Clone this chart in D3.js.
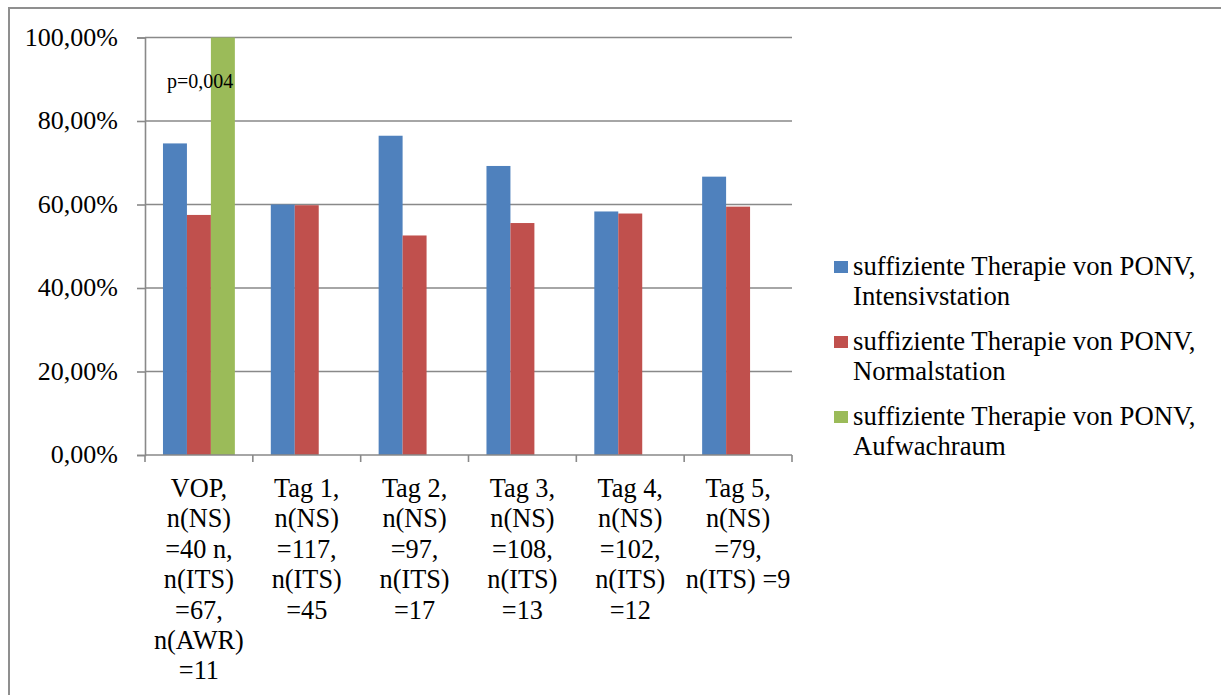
<!DOCTYPE html>
<html>
<head>
<meta charset="utf-8">
<script src="https://cdn.jsdelivr.net/npm/d3@7"></script>
<style>
  html, body { margin: 0; padding: 0; background: #fff; }
  svg { display: block; }
  text { font-family: "Liberation Serif", "Times New Roman", serif; fill: #000; }
</style>
</head>
<body>
<svg id="chart" width="1221" height="695"></svg>
<script>
// Categories (x axis), each label split into its wrapped lines
const categories = ["VOP", "Tag 1", "Tag 2", "Tag 3", "Tag 4", "Tag 5"];
const categoryLabelLines = [
  ["VOP,", "n(NS)", "=40 n,", "n(ITS)", "=67,", "n(AWR)", "=11"],
  ["Tag 1,", "n(NS)", "=117,", "n(ITS)", "=45"],
  ["Tag 2,", "n(NS)", "=97,", "n(ITS)", "=17"],
  ["Tag 3,", "n(NS)", "=108,", "n(ITS)", "=13"],
  ["Tag 4,", "n(NS)", "=102,", "n(ITS)", "=12"],
  ["Tag 5,", "n(NS)", "=79,", "n(ITS) =9"]
];

// Share of sufficient PONV therapy (%) per ward
const intensivValues = [74.63, 60.00, 76.47, 69.23, 58.33, 66.67];
const normalValues   = [57.50, 59.83, 52.58, 55.56, 57.84, 59.49];
const aufwachValues  = [100.00, null, null, null, null, null];

const seriesNames = [
  ["suffiziente Therapie von PONV,", "Intensivstation"],
  ["suffiziente Therapie von PONV,", "Normalstation"],
  ["suffiziente Therapie von PONV,", "Aufwachraum"]
];
const seriesColors = ["#4F81BD", "#C0504D", "#9BBB59"];

const yTicks = [0, 20, 40, 60, 80, 100];
const yTickLabels = ["0,00%", "20,00%", "40,00%", "60,00%", "80,00%", "100,00%"];

const annotationText = "p=0,004";

const seriesValues = [intensivValues, normalValues, aufwachValues];
const seriesKeys = ["its", "ns", "awr"];

const svg = d3.select("#chart");
const gridColor = "#898989";

// outer frame of the chart object
svg.append("rect")
  .attr("x", 9).attr("y", 8)
  .attr("width", 1400).attr("height", 900)
  .attr("fill", "none")
  .attr("stroke", "#8f8f8f")
  .attr("stroke-width", 2);

const plot = { left: 145, right: 792, top: 37.5, bottom: 455 };

const x0 = d3.scaleBand()
  .domain(categories)
  .range([plot.left, plot.right])
  .padding(0);

const x1 = d3.scaleBand()
  .domain(seriesKeys)
  .range([0, x0.bandwidth()])
  .paddingInner(0)
  .paddingOuter(0.75);

const y = d3.scaleLinear()
  .domain([0, 100])
  .range([plot.bottom, plot.top]);

// horizontal gridlines
svg.append("g")
  .selectAll("line")
  .data(yTicks.filter(t => t > 0))
  .join("line")
  .attr("x1", plot.left).attr("x2", plot.right)
  .attr("y1", d => y(d)).attr("y2", d => y(d))
  .attr("stroke", gridColor)
  .attr("stroke-width", 1.6);

// bars
const rows = categories.map((c, i) => ({
  cat: c,
  vals: seriesKeys.map((k, s) => ({ key: k, s, v: seriesValues[s][i] }))
}));

svg.append("g")
  .selectAll("g")
  .data(rows)
  .join("g")
  .attr("transform", d => `translate(${x0(d.cat)},0)`)
  .selectAll("rect")
  .data(d => d.vals.filter(v => v.v !== null))
  .join("rect")
  .attr("x", d => x1(d.key))
  .attr("width", x1.bandwidth())
  .attr("y", d => y(d.v))
  .attr("height", d => y(0) - y(d.v))
  .attr("fill", d => seriesColors[d.s]);

// y axis
const yAxis = d3.axisLeft(y)
  .tickValues(yTicks)
  .tickSize(8)
  .tickFormat((d, i) => yTickLabels[i]);

const gy = svg.append("g")
  .attr("transform", `translate(${plot.left},0)`)
  .call(yAxis);
gy.select(".domain").attr("stroke", gridColor).attr("stroke-width", 1.6);
gy.selectAll(".tick line").attr("stroke", gridColor).attr("stroke-width", 1.6);
gy.selectAll(".tick text")
  .attr("x", -27)
  .attr("dy", "0.29em")
  .style("font-size", "26px")
  .style("font-family", "'Liberation Serif', 'Times New Roman', serif")
  .attr("fill", "#000");

// x axis with ticks on the category boundaries
const xAxisG = svg.append("g")
  .attr("transform", `translate(0,${plot.bottom})`);
xAxisG.append("line")
  .attr("x1", plot.left).attr("x2", plot.right)
  .attr("stroke", gridColor).attr("stroke-width", 1.6);
const boundaries = categories.map(c => x0(c)).concat([plot.right]);
xAxisG.selectAll("line.tick")
  .data(boundaries)
  .join("line")
  .attr("class", "tick")
  .attr("x1", d => d).attr("x2", d => d)
  .attr("y1", 0).attr("y2", 7)
  .attr("stroke", gridColor).attr("stroke-width", 1.6);

// wrapped category labels
const lineH = 30.4;
xAxisG.selectAll("text.cat")
  .data(categories)
  .join("text")
  .attr("class", "cat")
  .attr("text-anchor", "middle")
  .style("font-size", "26.3px")
  .each(function (c, i) {
    const t = d3.select(this);
    categoryLabelLines[i].forEach((ln, j) => {
      t.append("tspan")
        .attr("x", x0(c) + x0.bandwidth() / 2)
        .attr("y", 42 + j * lineH)
        .text(ln);
    });
  });

// significance note above the VOP group
svg.append("text")
  .attr("x", x0("VOP") + 22)
  .attr("y", y(88))
  .style("font-size", "20px")
  .text(annotationText);

// legend
const legend = svg.append("g");
seriesNames.forEach((lines, i) => {
  const base = 275 + i * 75;
  legend.append("rect")
    .attr("x", 834).attr("y", base - 14)
    .attr("width", 14).attr("height", 12)
    .attr("fill", seriesColors[i]);
  const t = legend.append("text").style("font-size", "26.7px");
  lines.forEach((ln, j) => {
    t.append("tspan").attr("x", 853).attr("y", base + j * 30).text(ln);
  });
});
</script>
</body>
</html>
